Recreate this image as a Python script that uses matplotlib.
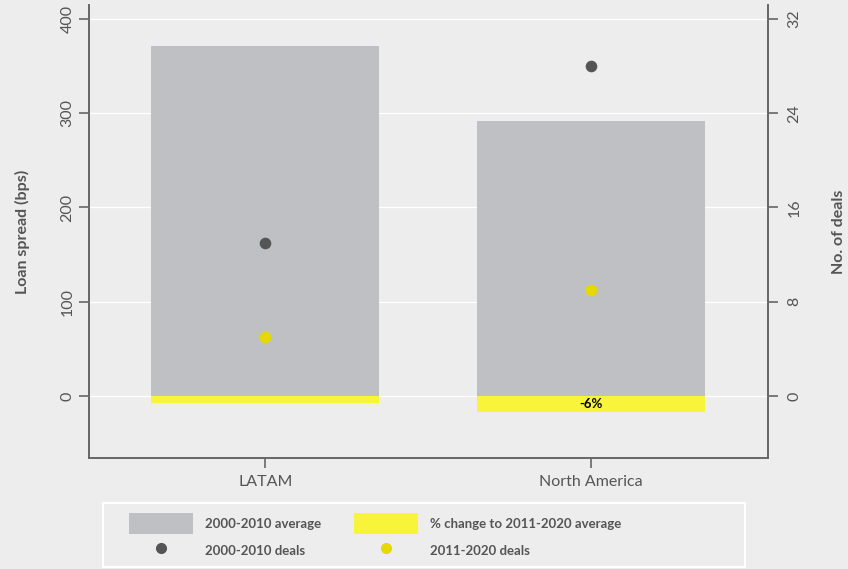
import numpy as np
import matplotlib
matplotlib.use("Agg")
from matplotlib import pyplot as plt
from matplotlib.patches import Patch, Rectangle
from matplotlib.lines import Line2D

plt.rcParams['font.family'] = ['Lato', 'DejaVu Sans']

regions = ["LATAM", "North America"]
avg_2000_2010 = [371, 292]          # loan spread, bps
change_bps = [-8, -17]              # change to 2011-2020 average, bps
change_labels = ["", "-6%"]
deals_2000_2010 = [13, 28]
deals_2011_2020 = [5, 9]

BG = "#ededed"
GREY = "#bfc0c3"
YELLOW = "#f8f43a"
DARK = "#555555"
DOT_YELLOW = "#e6d800"
TXT = "#555555"
SPINE = "#666666"

W, H = 848, 569
fig = plt.figure(figsize=(W / 100, H / 100), dpi=100, facecolor=BG)
ax = fig.add_axes([89 / W, 1 - 458 / H, (768 - 89) / W, (458 - 5) / H], facecolor=BG)
ax2 = ax.twinx()

x = np.arange(1, len(regions) + 1)
ax.set_ylim(-66, 415)
ax.set_xlim(0.458, 2.544)
ax2.set_ylim(-66 * 0.08, 415 * 0.08)

for v in [0, 100, 200, 300, 400]:
    ax.axhline(v, color="white", lw=0.9, zorder=0)

ax.bar(x, avg_2000_2010, width=0.7, color=GREY, zorder=2)
ax.bar(x, change_bps, width=0.7, color=YELLOW, zorder=2)
for xi, c, lab in zip(x, change_bps, change_labels):
    if lab:
        ax.text(xi, c / 2, lab, ha="center", va="center", fontsize=9.5,
                fontweight="bold", color="black", zorder=4)

ax2.scatter(x, deals_2000_2010, s=70, color=DARK, zorder=5, linewidths=0)
ax2.scatter(x, deals_2011_2020, s=70, color=DOT_YELLOW, zorder=5, linewidths=0)

ax.set_yticks([0, 100, 200, 300, 400])
ax2.set_yticks([0, 8, 16, 24, 32])
ax.set_xticks(x)
ax.set_xticklabels(regions)

for a in (ax, ax2):
    a.spines['top'].set_visible(False)
    for s in a.spines.values():
        s.set_color(SPINE)
        s.set_linewidth(1.2)
    a.tick_params(colors=SPINE, labelcolor=TXT, labelsize=11.5, length=7, width=1.2)
ax.tick_params(axis='x', pad=5)
ax.tick_params(axis='y', labelrotation=90)
ax2.tick_params(axis='y', labelrotation=90, pad=7)
for t in ax.get_yticklabels() + ax2.get_yticklabels():
    t.set_va("center")

ax.set_ylabel("Loan spread (bps)", fontsize=11.5, fontweight="bold", color=TXT)
ax.yaxis.set_label_coords(-0.087, 0.5)
ax2.set_ylabel("No. of deals", fontsize=11.5, fontweight="bold", color=TXT, rotation=90)
ax2.yaxis.set_label_coords(1.0945, 0.5)

# legend frame (wider than its content)
fig.patches.append(Rectangle((103 / W, 1 - 567 / H), (745 - 103) / W, (567 - 503) / H,
                             transform=fig.transFigure, facecolor=BG, edgecolor="white",
                             lw=1.5, zorder=0))

handles = [Patch(facecolor=GREY), Line2D([], [], marker='o', ls='', color=DARK, markersize=7),
           Patch(facecolor=YELLOW), Line2D([], [], marker='o', ls='', color=DOT_YELLOW, markersize=7)]
labels = ["2000-2010 average", "2000-2010 deals", "% change to 2011-2020 average", "2011-2020 deals"]
leg = fig.legend(handles, labels, ncol=2, loc="upper left", bbox_to_anchor=(129 / W, 1 - 513 / H),
                 frameon=False, borderpad=0, borderaxespad=0,
                 handlelength=4.85, handleheight=2.05, handletextpad=0.9, columnspacing=2.5,
                 labelspacing=0.5, prop={'size': 9.5, 'weight': 'bold'})
for t in leg.get_texts():
    t.set_color(TXT)

fig.savefig("out.png", dpi=100, facecolor=BG)
